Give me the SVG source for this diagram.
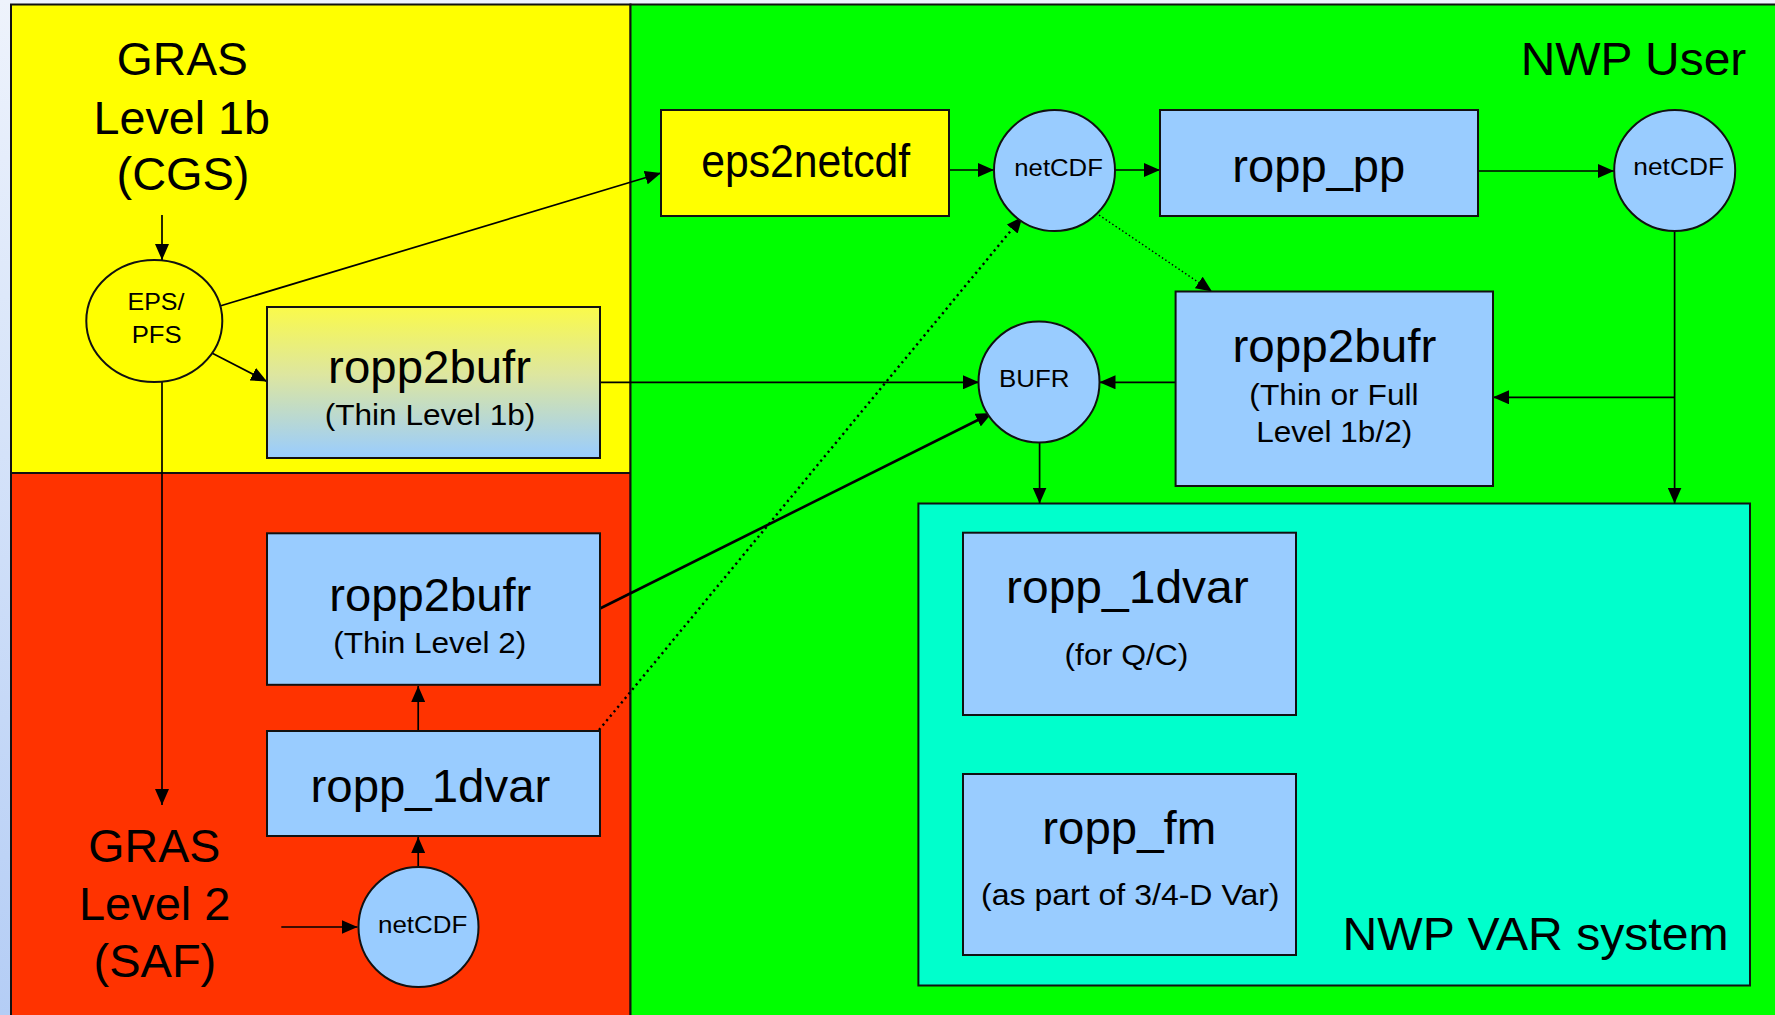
<svg xmlns="http://www.w3.org/2000/svg" width="1775" height="1015" viewBox="0 0 1775 1015">
<defs>
<linearGradient id="bg" x1="0" y1="0" x2="0" y2="1"><stop offset="0" stop-color="#eef3fc"/><stop offset="1" stop-color="#b4cdf5"/></linearGradient>
<linearGradient id="yb" x1="0" y1="0" x2="0" y2="1"><stop offset="0" stop-color="#fafa4a"/><stop offset="0.45" stop-color="#dde6a0"/><stop offset="1" stop-color="#99ccff"/></linearGradient>
<marker id="ah" viewBox="0 0 16 14" refX="16" refY="7" markerWidth="16" markerHeight="14" markerUnits="userSpaceOnUse" orient="auto"><path d="M0,0 L16,7 L0,14 z" fill="#000"/></marker>
<style>
.panel{stroke:#111;stroke-width:2}
.box{fill:#99ccff;stroke:#111;stroke-width:2}
.t{font-family:"Liberation Sans",Arial,sans-serif;fill:#000;text-anchor:middle}
.big{font-size:45.5px}
.med{font-size:30px}
.sm{font-size:24.5px}
.c{fill:none;stroke:#000;stroke-width:1.7}
.thick{stroke-width:2.6}
.dot{stroke-dasharray:2.2 3.6;stroke-width:2.4}
.dot2{stroke-dasharray:1.5 2.5;stroke-width:1.4}
</style>
</defs>
<rect x="0" y="0" width="1775" height="1015" fill="url(#bg)"/>
<g id="panels">
<rect id="panel-yellow" class="panel" x="11" y="4.5" width="619.5" height="468.5" fill="#ffff00"/>
<rect id="panel-red" class="panel" x="11" y="473" width="619.5" height="560" fill="#ff3300"/>
<rect id="panel-green" class="panel" x="630.5" y="4.5" width="1160" height="1030" fill="#00ff00"/>
<rect id="panel-cyan" class="panel" x="918.4" y="503.5" width="831.6" height="482" fill="#00ffcc"/>
</g>
<g id="panel-labels">
<text class="t big" x="182.3" y="74.5" textLength="131" lengthAdjust="spacingAndGlyphs">GRAS</text>
<text class="t big" x="181.7" y="133.6" textLength="176.4" lengthAdjust="spacingAndGlyphs">Level 1b</text>
<text class="t big" x="183" y="190" textLength="133" lengthAdjust="spacingAndGlyphs">(CGS)</text>
<text class="t big" x="154.3" y="862" textLength="132" lengthAdjust="spacingAndGlyphs">GRAS</text>
<text class="t big" x="154.7" y="920" textLength="151.6" lengthAdjust="spacingAndGlyphs">Level 2</text>
<text class="t big" x="154.9" y="977" textLength="122.7" lengthAdjust="spacingAndGlyphs">(SAF)</text>
<text class="t big" x="1633.5" y="75" textLength="225.6" lengthAdjust="spacingAndGlyphs">NWP User</text>
<text class="t big" x="1535.6" y="950" textLength="386" lengthAdjust="spacingAndGlyphs">NWP VAR system</text>
</g>
<g id="connectors">
<line class="c" x1="162" y1="215" x2="162" y2="260" marker-end="url(#ah)"/>
<line class="c" x1="220" y1="306" x2="661" y2="173" marker-end="url(#ah)"/>
<line class="c" x1="206" y1="350" x2="267" y2="381.5" marker-end="url(#ah)"/>
<line class="c" x1="162" y1="382" x2="162" y2="805" marker-end="url(#ah)"/>
<line class="c" x1="600" y1="382.3" x2="979" y2="382.3" marker-end="url(#ah)"/>
<line class="c thick" x1="600" y1="608.5" x2="992" y2="413" marker-end="url(#ah)"/>
<line class="c" x1="418.2" y1="731" x2="418.2" y2="686" marker-end="url(#ah)"/>
<line class="c" x1="418.2" y1="867" x2="418.2" y2="837" marker-end="url(#ah)"/>
<line class="c" x1="281.3" y1="927" x2="357.5" y2="927" marker-end="url(#ah)"/>
<line class="c dot" x1="599" y1="730" x2="1022.4" y2="216.7" marker-end="url(#ah)"/>
<line class="c" x1="949" y1="170" x2="994" y2="170" marker-end="url(#ah)"/>
<line class="c" x1="1115" y1="170" x2="1160" y2="170" marker-end="url(#ah)"/>
<line class="c dot2" x1="1099" y1="215" x2="1212" y2="291.5" marker-end="url(#ah)"/>
<line class="c" x1="1478" y1="171" x2="1614" y2="171" marker-end="url(#ah)"/>
<line class="c" x1="1674.6" y1="231" x2="1674.6" y2="503.5" marker-end="url(#ah)"/>
<line class="c" x1="1674.6" y1="397.3" x2="1493" y2="397.3" marker-end="url(#ah)"/>
<line class="c" x1="1175.6" y1="382.3" x2="1099.5" y2="382.3" marker-end="url(#ah)"/>
<line class="c" x1="1039.6" y1="443" x2="1039.6" y2="503.5" marker-end="url(#ah)"/>
</g>
<g id="eps-pfs">
<ellipse cx="154.3" cy="321" rx="68" ry="61" fill="#ffff00" stroke="#111" stroke-width="2"/>
<text class="t sm" x="156" y="310" textLength="57" lengthAdjust="spacingAndGlyphs">EPS/</text>
<text class="t sm" x="156.7" y="343" textLength="50" lengthAdjust="spacingAndGlyphs">PFS</text>
</g>
<g id="ropp2bufr-thin1b">
<rect x="267" y="307" width="333" height="151" fill="url(#yb)" stroke="#111" stroke-width="2"/>
<text class="t big" x="429.6" y="383" textLength="203" lengthAdjust="spacingAndGlyphs">ropp2bufr</text>
<text class="t med" x="430" y="425" textLength="210.6" lengthAdjust="spacingAndGlyphs">(Thin Level 1b)</text>
</g>
<g id="ropp2bufr-thin2">
<rect class="box" x="267" y="533.3" width="333" height="151.5"/>
<text class="t big" x="430.3" y="610.5" textLength="202" lengthAdjust="spacingAndGlyphs">ropp2bufr</text>
<text class="t med" x="429.8" y="653" textLength="193" lengthAdjust="spacingAndGlyphs">(Thin Level 2)</text>
</g>
<g id="ropp-1dvar-l2">
<rect class="box" x="267" y="731" width="333" height="105"/>
<text class="t big" x="430.4" y="801.6" textLength="239.8" lengthAdjust="spacingAndGlyphs">ropp_1dvar</text>
</g>
<g id="netcdf-l2">
<circle class="box" cx="418.5" cy="927" r="60"/>
<text class="t sm" x="422.7" y="932.6" textLength="89.4" lengthAdjust="spacingAndGlyphs">netCDF</text>
</g>
<g id="eps2netcdf">
<rect x="661" y="110" width="288" height="106" fill="#ffff00" stroke="#111" stroke-width="2"/>
<text class="t big" x="805.7" y="176.7" textLength="209" lengthAdjust="spacingAndGlyphs">eps2netcdf</text>
</g>
<g id="netcdf-1">
<circle class="box" cx="1054.5" cy="170.5" r="60.5"/>
<text class="t sm" x="1058.6" y="176" textLength="88.6" lengthAdjust="spacingAndGlyphs">netCDF</text>
</g>
<g id="ropp-pp">
<rect class="box" x="1160" y="110" width="318" height="106"/>
<text class="t big" x="1318.8" y="181.7" textLength="173" lengthAdjust="spacingAndGlyphs">ropp_pp</text>
</g>
<g id="netcdf-2">
<circle class="box" cx="1674.7" cy="170.5" r="60.5"/>
<text class="t sm" x="1678.7" y="175" textLength="90.7" lengthAdjust="spacingAndGlyphs">netCDF</text>
</g>
<g id="bufr">
<circle class="box" cx="1039" cy="382" r="60.5"/>
<text class="t sm" x="1034.2" y="387.3" textLength="70.4" lengthAdjust="spacingAndGlyphs">BUFR</text>
</g>
<g id="ropp2bufr-full">
<rect class="box" x="1175.6" y="291.5" width="317.4" height="194.5"/>
<text class="t big" x="1334.4" y="361.7" textLength="204" lengthAdjust="spacingAndGlyphs">ropp2bufr</text>
<text class="t med" x="1334" y="405" textLength="169.3" lengthAdjust="spacingAndGlyphs">(Thin or Full</text>
<text class="t med" x="1334.2" y="441.7" textLength="156" lengthAdjust="spacingAndGlyphs">Level 1b/2)</text>
</g>
<g id="ropp-1dvar-qc">
<rect class="box" x="963" y="532.7" width="333" height="182.3"/>
<text class="t big" x="1127.4" y="603.3" textLength="242.8" lengthAdjust="spacingAndGlyphs">ropp_1dvar</text>
<text class="t med" x="1126.5" y="665" textLength="124" lengthAdjust="spacingAndGlyphs">(for Q/C)</text>
</g>
<g id="ropp-fm">
<rect class="box" x="963" y="774" width="333" height="181"/>
<text class="t big" x="1129.3" y="844" textLength="174" lengthAdjust="spacingAndGlyphs">ropp_fm</text>
<text class="t med" x="1130.3" y="905" textLength="298.5" lengthAdjust="spacingAndGlyphs">(as part of 3/4-D Var)</text>
</g>
</svg>
